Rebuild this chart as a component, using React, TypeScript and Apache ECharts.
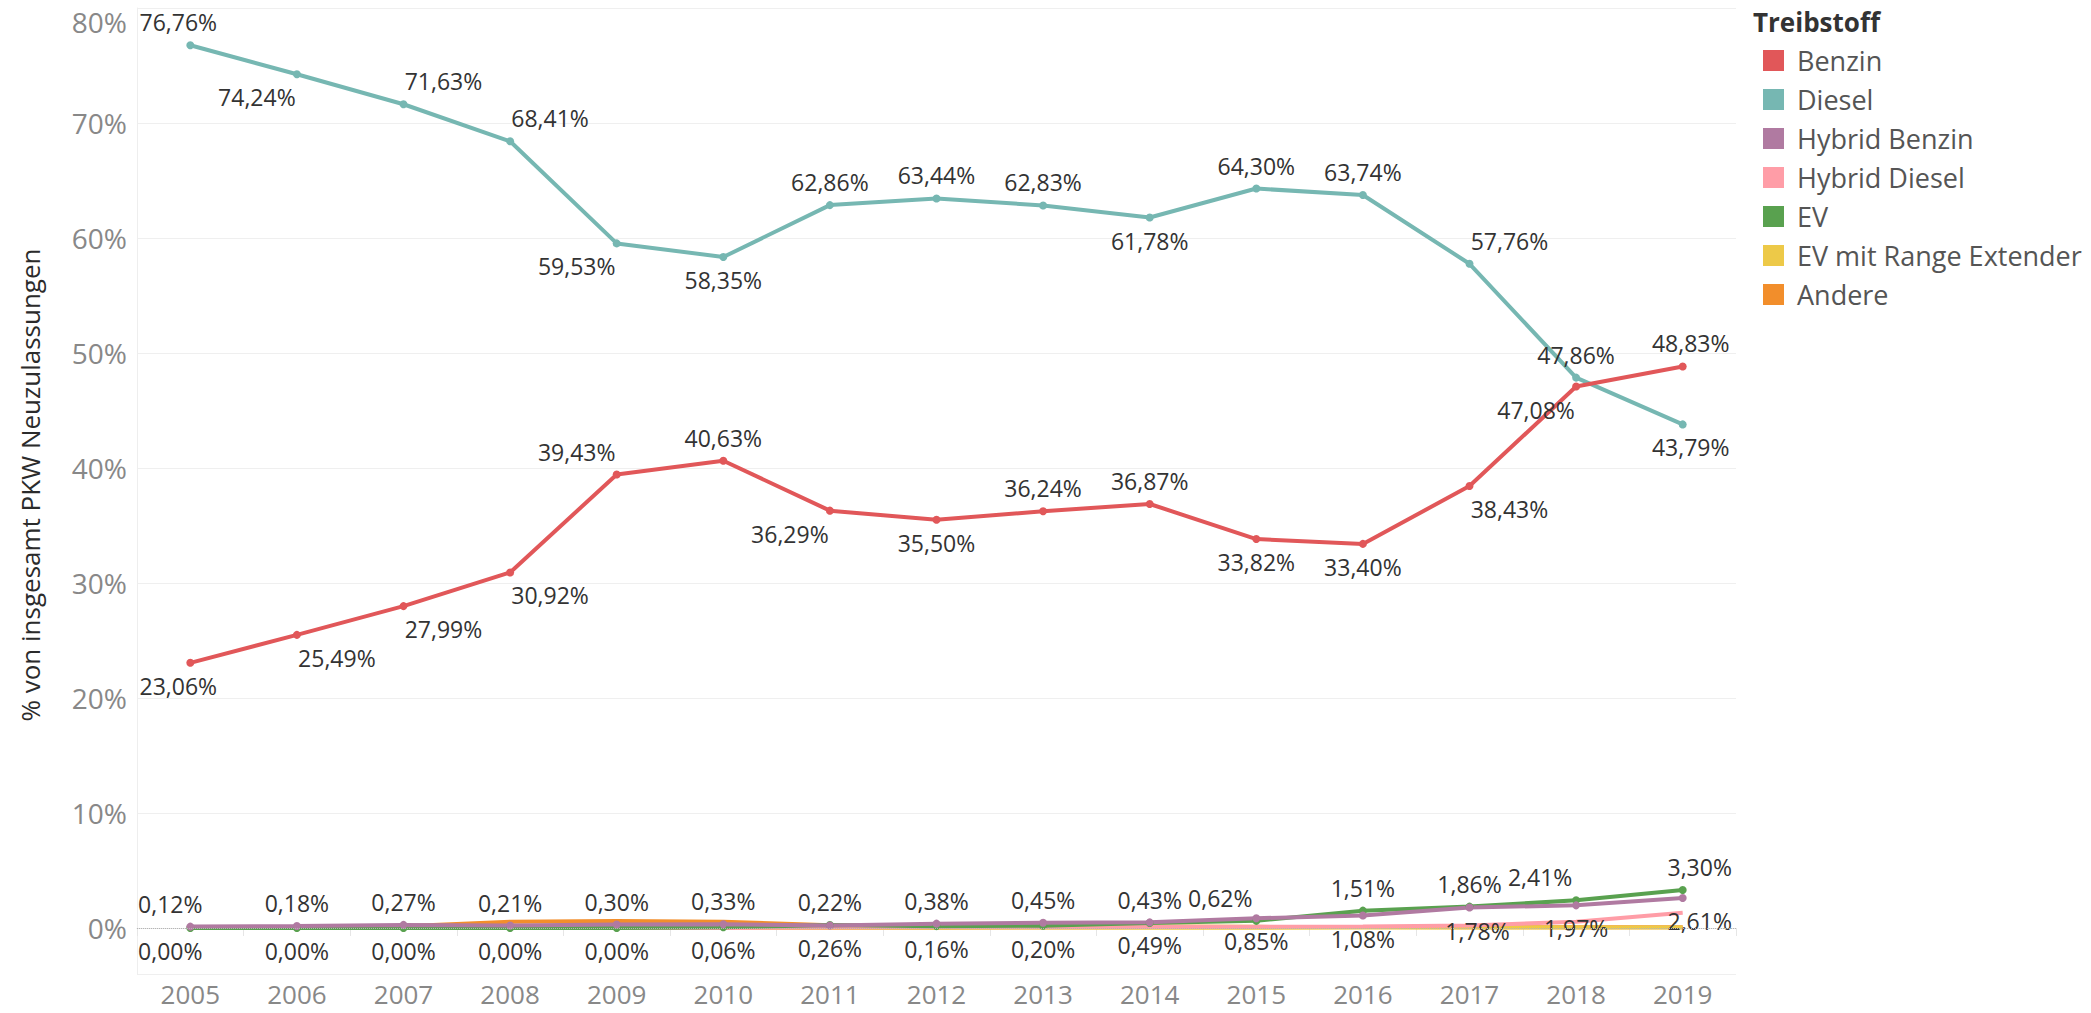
import React, { useEffect, useRef } from "react";
import * as echarts from "echarts";

const YEARS = ["2005", "2006", "2007", "2008", "2009", "2010", "2011", "2012", "2013", "2014", "2015", "2016", "2017", "2018", "2019"];
const BENZIN = [23.06, 25.49, 27.99, 30.92, 39.43, 40.63, 36.29, 35.5, 36.24, 36.87, 33.82, 33.4, 38.43, 47.08, 48.83];
const DIESEL = [76.76, 74.24, 71.63, 68.41, 59.53, 58.35, 62.86, 63.44, 62.83, 61.78, 64.3, 63.74, 57.76, 47.86, 43.79];
const HYBRID_BENZIN = [0.12, 0.18, 0.27, 0.21, 0.3, 0.33, 0.22, 0.38, 0.45, 0.49, 0.85, 1.08, 1.78, 1.97, 2.61];
const HYBRID_DIESEL = [0, 0, 0, 0, 0, 0, 0.04, 0.06, 0.07, 0.08, 0.1, 0.14, 0.22, 0.55, 1.33];
const EV = [0, 0, 0, 0, 0, 0.06, 0.26, 0.16, 0.2, 0.43, 0.62, 1.51, 1.86, 2.41, 3.3];
const EV_RANGE_EXT = [0, 0, 0, 0, 0, 0, 0, 0.01, 0.02, 0.02, 0.03, 0.04, 0.05, 0.05, 0.05];
const ANDERE = [0.05, 0.08, 0.15, 0.55, 0.6, 0.55, 0.25, 0.2, 0.15, 0.12, 0.1, 0.08, 0.07, 0.06, 0.06];
const Y_TICK_MAX = 80;
const Y_MIN = -4;

// label placement (style only)
const DIESEL_POS = ["top", "bottom", "top", "top", "bottom", "bottom", "top", "top", "top", "bottom", "top", "top", "top", "top", "bottom"];
const DIESEL_DX = [-12, -40, 40, 40, -40, 0, 0, 0, 0, 0, 0, 0, 40, 0, 8];
const BENZIN_POS = ["bottom", "bottom", "bottom", "bottom", "top", "top", "bottom", "bottom", "top", "top", "bottom", "bottom", "bottom", "bottom", "top"];
const BENZIN_DX = [-12, 40, 40, 40, -40, 0, -40, 0, 0, 0, 0, 0, 40, -40, 8];
const HB_POS = ["top", "top", "top", "top", "top", "top", "top", "top", "top", "bottom", "bottom", "bottom", "bottom", "bottom", "bottom"];
const HB_DX = [-20, 0, 0, 0, 0, 0, 0, 0, 0, 0, 0, 0, 8, 0, 17];
const EV_POS = ["bottom", "bottom", "bottom", "bottom", "bottom", "bottom", "bottom", "bottom", "bottom", "top", "top", "top", "top", "top", "top"];
const EV_DX = [-20, 0, 0, 0, 0, 0, 0, 0, 0, 0, -36, 0, 0, -36, 17];

const FONT = "'Open Sans', 'DejaVu Sans', sans-serif";
const C = {
  benzin: "#e15759",
  diesel: "#76b7b2",
  hb: "#b07aa1",
  hd: "#ff9da7",
  ev: "#59a14f",
  evre: "#edc948",
  andere: "#f28e2b",
};

const fmt = (v: number) => v.toFixed(2).replace(".", ",") + "%";

function labeledSeries(name: string, values: number[], color: string, pos: string[], dx: number[]) {
  return {
    name,
    type: "line",
    data: values.map((v, i) => ({ value: v, label: { position: pos[i], offset: [dx[i], 0] } })),
    symbol: "circle",
    symbolSize: 8,
    showSymbol: true,
    lineStyle: { width: 4, color },
    itemStyle: { color },
    emphasis: { disabled: true },
    label: {
      show: true,
      formatter: (p: any) => fmt(p.value),
      fontFamily: FONT,
      fontSize: 23,
      lineHeight: 24,
      color: "#333",
      distance: 7,
    },
    clip: false,
  };
}

function plainSeries(name: string, values: number[], color: string, extra: any = {}) {
  return {
    name,
    type: "line",
    data: values,
    symbol: "circle",
    showSymbol: false,
    lineStyle: { width: 4, color },
    itemStyle: { color },
    emphasis: { disabled: true },
    clip: false,
    ...extra,
  };
}

export default function App() {
  const ref = useRef<HTMLDivElement>(null);
  useEffect(() => {
    document.body.style.margin = "0";
    const chart = echarts.init(ref.current!, null, { renderer: "svg" });
    const option: any = {
      animation: false,
      backgroundColor: "#ffffff",
      grid: { left: 137, right: 355, top: 8, bottom: 39 },
      legend: {
        orient: "vertical",
        left: 1758,
        top: 42,
        itemWidth: 21,
        itemHeight: 21,
        itemGap: 12,
        icon: "rect",
        selectedMode: false,
        data: ["Benzin", "Diesel", "Hybrid Benzin", "Hybrid Diesel", "EV", "EV mit Range Extender", "Andere"],
        textStyle: { fontFamily: FONT, fontSize: 27, lineHeight: 27, color: "#555", padding: [0, 0, 0, 8] },
      },
      graphic: [
        {
          type: "text",
          x: 1753,
          y: 22,
          style: { text: "Treibstoff", font: `bold 26px ${FONT}`, fill: "#333", textAlign: "left", textVerticalAlign: "middle" },
        },
        {
          type: "text",
          x: 30,
          y: 485,
          rotation: Math.PI / 2,
          style: {
            text: "% von insgesamt PKW Neuzulassungen",
            font: `26px ${FONT}`,
            fill: "#2b2b2b",
            textAlign: "center",
            textVerticalAlign: "middle",
          },
        },
      ],
      xAxis: {
        type: "category",
        data: YEARS,
        boundaryGap: true,
        axisLine: { show: true, lineStyle: { color: "#e6e6e6", width: 1 } },
        axisTick: { show: true, interval: 0, length: 8, lineStyle: { color: "#e6e6e6" } },
        axisLabel: { fontFamily: FONT, fontSize: 26, lineHeight: 26, color: "#888", margin: 7, interval: 0 },
        splitLine: { show: false },
      },
      yAxis: {
        type: "value",
        min: Y_MIN,
        max: Y_TICK_MAX,
        splitNumber: 8,
        axisLine: { show: true, lineStyle: { color: "#eeeeee", width: 1 } },
        axisTick: { show: false },
        splitLine: { show: true, lineStyle: { color: "#efefef", width: 1 } },
        axisLabel: {
          fontFamily: FONT,
          fontSize: 28,
          color: "#888",
          margin: 10,
          showMinLabel: false,
          formatter: (v: number) => (v < 0 ? "" : v === Y_TICK_MAX ? `{top|${v}%}` : `${v}%`),
          rich: { top: { fontFamily: FONT, fontSize: 28, color: "#888", padding: [28, 0, 0, 0] } },
        },
      },
      series: [
        plainSeries("Andere", ANDERE, C.andere, {
          markLine: {
            silent: true,
            symbol: "none",
            label: { show: false },
            lineStyle: { type: "dotted", color: "#b5b5b5", width: 1 },
            data: [{ yAxis: 0 }],
          },
        }),
        plainSeries("EV mit Range Extender", EV_RANGE_EXT, C.evre),
        plainSeries("Hybrid Diesel", HYBRID_DIESEL, C.hd),
        labeledSeries("EV", EV, C.ev, EV_POS, EV_DX),
        labeledSeries("Hybrid Benzin", HYBRID_BENZIN, C.hb, HB_POS, HB_DX),
        labeledSeries("Diesel", DIESEL, C.diesel, DIESEL_POS, DIESEL_DX),
        labeledSeries("Benzin", BENZIN, C.benzin, BENZIN_POS, BENZIN_DX),
      ],
    };
    chart.setOption(option);
    return () => chart.dispose();
  }, []);
  return <div ref={ref} style={{ position: "fixed", left: 0, top: 0, width: 2091, height: 1013, background: "#fff" }} />;
}
